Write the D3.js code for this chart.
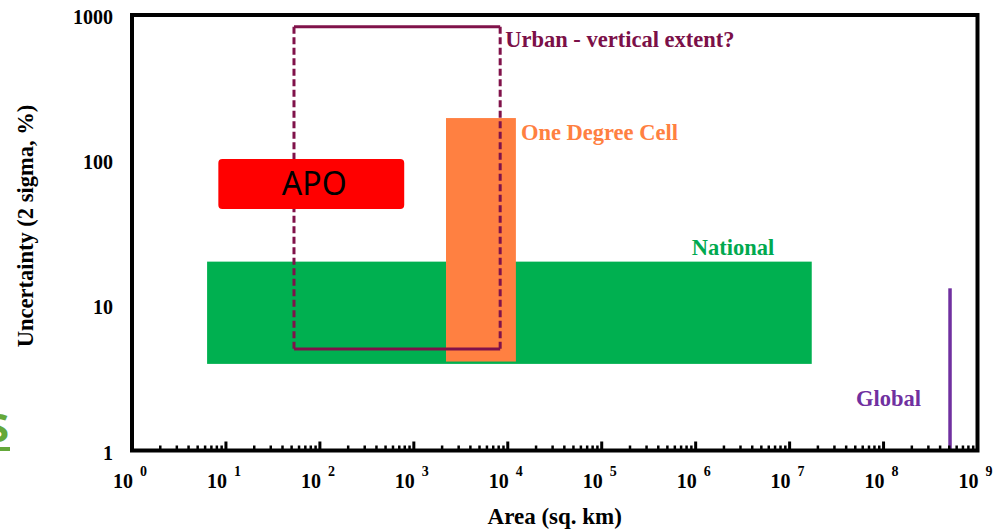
<!DOCTYPE html>
<html>
<head>
<meta charset="utf-8">
<script src="https://d3js.org/d3.v7.min.js"></script>
<style>
  body { margin: 0; background: #fff; }
  svg { display: block; }
  .serif { font-family: "Liberation Serif", "Times New Roman", serif; font-weight: bold; }
</style>
</head>
<body>
<div id="chart"></div>
<script>
const width = 1003, height = 531;

// uncertainty regimes: area range (sq. km) and uncertainty range (%)
const boxNames = ["National", "One Degree Cell", "Urban - vertical extent?", "APO"];
const boxColors = ["#00B050", "#FF8041", "#80124A", "#FF0000"];
const areaLow = [6.3, 2200, 53, 8.3];
const areaHigh = [1.72e7, 12200, 8300, 790];
const uncLow = [3.95, 4.1, 5, 46];
const uncHigh = [20, 195, 830, 102];

// global estimate is a single area
const globalArea = 5.1e8;
const globalUnc = [1, 13.1];

const xExponents = [0, 1, 2, 3, 4, 5, 6, 7, 8, 9];
const yTicks = [1, 10, 100, 1000];

const x = d3.scaleLog().domain([1, 1e9]).range([132, 977.5]);
const y = d3.scaleLog().domain([1, 1000]).range([450.5, 15]);

let svg = d3.select("#chart")
  .append("svg")
  .attr("width", width)
  .attr("height", height);

// leftover slide text on the far left
svg.append("text")
  .attr("x", 9)
  .attr("y", 442)
  .attr("text-anchor", "end")
  .style("font-family", "'Open Sans', sans-serif")
  .style("font-weight", "bold")
  .style("font-size", "40px")
  .attr("fill", "#64A83A")
  .text("S");
svg.append("rect")
  .attr("x", 0).attr("y", 447).attr("width", 10).attr("height", 4)
  .attr("fill", "#64A83A");

// National
svg.append("rect")
  .attr("x", x(areaLow[0]))
  .attr("y", y(uncHigh[0]))
  .attr("width", x(areaHigh[0]) - x(areaLow[0]))
  .attr("height", y(uncLow[0]) - y(uncHigh[0]))
  .attr("fill", boxColors[0]);

// One degree cell
svg.append("rect")
  .attr("x", x(areaLow[1]))
  .attr("y", y(uncHigh[1]))
  .attr("width", x(areaHigh[1]) - x(areaLow[1]))
  .attr("height", y(uncLow[1]) - y(uncHigh[1]))
  .attr("fill", boxColors[1]);

// Urban: solid top/bottom, dashed sides
let ux0 = x(areaLow[2]), ux1 = x(areaHigh[2]), uy0 = y(uncHigh[2]), uy1 = y(uncLow[2]);
let urban = svg.append("g")
  .attr("stroke", boxColors[2])
  .attr("stroke-width", 3)
  .attr("fill", "none");
urban.append("line").attr("x1", ux0).attr("x2", ux1).attr("y1", uy0).attr("y2", uy0);
urban.append("line").attr("x1", ux0).attr("x2", ux1).attr("y1", uy1).attr("y2", uy1);
urban.selectAll(".side")
  .data([ux0, ux1])
  .enter().append("line")
  .attr("class", "side")
  .attr("x1", (d) => d).attr("x2", (d) => d)
  .attr("y1", uy0).attr("y2", uy1)
  .attr("stroke-dasharray", "7,3.5");

// APO
svg.append("rect")
  .attr("x", x(areaLow[3]))
  .attr("y", y(uncHigh[3]))
  .attr("width", x(areaHigh[3]) - x(areaLow[3]))
  .attr("height", y(uncLow[3]) - y(uncHigh[3]))
  .attr("rx", 4)
  .attr("fill", boxColors[3]);
svg.append("text")
  .attr("x", (x(areaLow[3]) + x(areaHigh[3])) / 2 + 3)
  .attr("y", (y(uncLow[3]) + y(uncHigh[3])) / 2 + 11)
  .attr("text-anchor", "middle")
  .style("font-family", "'Noto Sans', sans-serif")
  .style("font-size", "32px")
  .attr("fill", "#000")
  .text("APO");

// Global
svg.append("line")
  .attr("x1", x(globalArea)).attr("x2", x(globalArea))
  .attr("y1", y(globalUnc[0])).attr("y2", y(globalUnc[1]))
  .attr("stroke", "#7030A0")
  .attr("stroke-width", 3.5);

// box labels
svg.append("text").attr("class", "serif")
  .attr("x", ux1 + 5).attr("y", uy0 + 20)
  .style("font-size", "22.5px").attr("fill", "#7B1048")
  .text(boxNames[2]);
svg.append("text").attr("class", "serif")
  .attr("x", x(areaHigh[1]) + 5).attr("y", y(uncHigh[1]) + 22)
  .style("font-size", "22.5px").attr("fill", boxColors[1])
  .text(boxNames[1]);
svg.append("text").attr("class", "serif")
  .attr("x", x(areaHigh[0]) - 120).attr("y", y(uncHigh[0]) - 7)
  .style("font-size", "22.5px").attr("fill", "#00A94F")
  .text(boxNames[0]);
svg.append("text").attr("class", "serif")
  .attr("x", x(globalArea) - 29).attr("y", 406)
  .attr("text-anchor", "end")
  .style("font-size", "22.5px").attr("fill", "#7030A0")
  .text("Global");

// minor and major ticks on the x axis (pointing inwards)
let minor = [];
xExponents.slice(0, -1).forEach(function(e) {
  for (let k = 2; k <= 9; k++) minor.push(k * Math.pow(10, e));
});
svg.selectAll(".minor")
  .data(minor)
  .enter().append("line")
  .attr("class", "minor")
  .attr("x1", (d) => x(d)).attr("x2", (d) => x(d))
  .attr("y1", y(1)).attr("y2", y(1) - 5)
  .attr("stroke", "#000").attr("stroke-width", 2.5);
svg.selectAll(".major")
  .data(xExponents)
  .enter().append("line")
  .attr("class", "major")
  .attr("x1", (d) => x(Math.pow(10, d))).attr("x2", (d) => x(Math.pow(10, d)))
  .attr("y1", y(1)).attr("y2", y(1) - 9)
  .attr("stroke", "#000").attr("stroke-width", 3);

// frame
svg.append("rect")
  .attr("x", x(1)).attr("y", y(1000))
  .attr("width", x(1e9) - x(1))
  .attr("height", y(1) - y(1000))
  .attr("fill", "none")
  .attr("stroke", "#000")
  .attr("stroke-width", 4);

// x tick labels: 10 with superscript exponent
let xLab = svg.selectAll(".xlab")
  .data(xExponents)
  .enter().append("g")
  .attr("class", "xlab serif");
xLab.append("text")
  .attr("x", (d) => x(Math.pow(10, d)) + 1)
  .attr("y", 488)
  .attr("text-anchor", "end")
  .style("font-size", "20px")
  .text("10");
xLab.append("text")
  .attr("x", (d) => x(Math.pow(10, d)) + 8)
  .attr("y", 476)
  .style("font-size", "14px")
  .text((d) => d);

// y tick labels
svg.selectAll(".ylab")
  .data(yTicks)
  .enter().append("text")
  .attr("class", "ylab serif")
  .attr("x", 113)
  .attr("y", (d) => y(d) + 9)
  .attr("text-anchor", "end")
  .style("font-size", "20px")
  .text((d) => d);

// axis titles
svg.append("text").attr("class", "serif")
  .attr("x", (x(1) + x(1e9)) / 2 + 0)
  .attr("y", 524)
  .attr("text-anchor", "middle")
  .style("font-size", "23px")
  .text("Area (sq. km)");
svg.append("text").attr("class", "serif")
  .attr("transform", "translate(33," + 226 + ") rotate(-90)")
  .attr("text-anchor", "middle")
  .style("font-size", "22.5px")
  .text("Uncertainty (2 sigma, %)");
</script>
</body>
</html>
